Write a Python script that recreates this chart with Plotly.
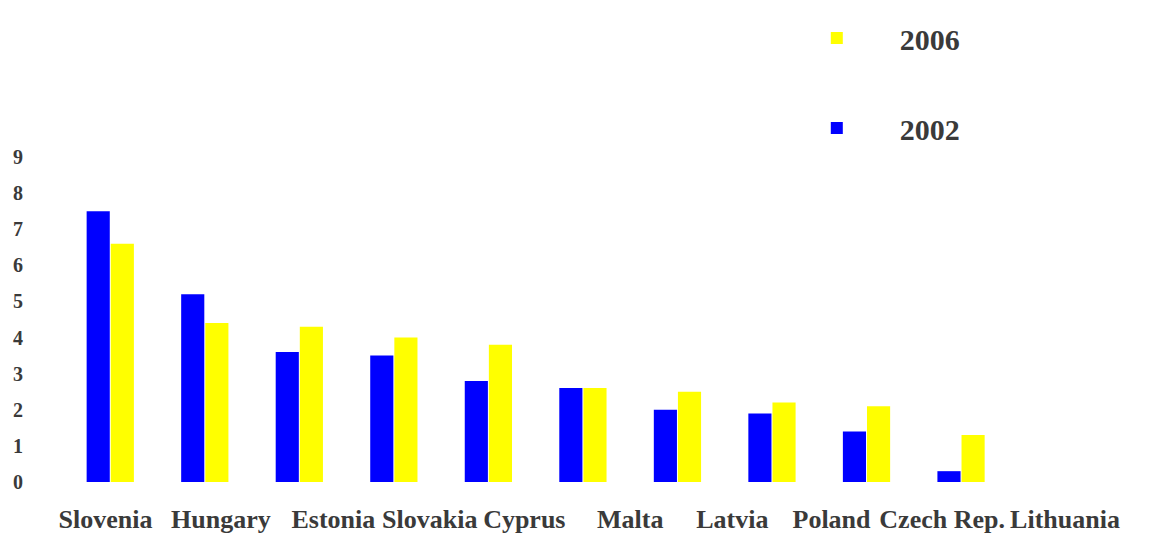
import plotly.graph_objects as go

countries = ["Slovenia", "Hungary", "Estonia", "Slovakia", "Cyprus",
             "Malta", "Latvia", "Poland", "Czech Rep.", "Lithuania"]
values_2002 = [7.5, 5.2, 3.6, 3.5, 2.8, 2.6, 2.0, 1.9, 1.4, 0.3]
values_2006 = [6.6, 4.4, 4.3, 4.0, 3.8, 2.6, 2.5, 2.2, 2.1, 1.3]
y_ticks = [0, 1, 2, 3, 4, 5, 6, 7, 8, 9]

# layout: where the category labels sit relative to the bar slots (as in the original slide)
label_offsets = [-0.05, 0.17, 0.36, 0.38, 0.38, 0.5, 0.58, 0.63, 0.8, 1.1]

idx = list(range(len(countries)))
label_pos = [i + o for i, o in zip(idx, label_offsets)]

txt = "#3a3a3a"
serif = "Liberation Serif, Times New Roman, serif"

fig = go.Figure()
fig.add_trace(go.Bar(x=idx, y=values_2002, name="2002", marker_color="#0000ff",
                     marker_line_width=0, legendgroup="a", legendrank=2))
fig.add_trace(go.Bar(x=idx, y=values_2006, name="2006", marker_color="#ffff00",
                     marker_line_width=0, legendgroup="b", legendrank=1))

fig.update_layout(
    width=1176, height=541,
    margin=dict(l=63, r=7, t=157, b=59, autoexpand=False),
    paper_bgcolor="white", plot_bgcolor="white",
    barmode="group", bargap=0.49, bargroupgap=0.04,
    font=dict(family=serif, color=txt, weight="bold"),
    showlegend=True,
    legend=dict(
        xref="container", yref="container",
        x=0.658, y=0.978, xanchor="left", yanchor="top",
        traceorder="grouped", tracegroupgap=48,
        font=dict(size=30, family=serif, color=txt, weight="bold"),
        itemwidth=116, bgcolor="rgba(0,0,0,0)",
    ),
    xaxis=dict(
        range=[-0.5, 11.2], tickmode="array", tickvals=label_pos, ticktext=countries,
        showgrid=False, zeroline=False, showline=False, ticks="", tickangle=0,
        tickfont=dict(size=26, family=serif, color=txt, weight="bold"),
        ticklabelstandoff=19,
    ),
    yaxis=dict(
        range=[0, 9], tickmode="array", tickvals=y_ticks,
        showgrid=False, zeroline=False, showline=False, ticks="",
        tickfont=dict(size=20, family=serif, color=txt, weight="bold"),
        ticklabelstandoff=39,
    ),
)

fig.write_html("out.html")
